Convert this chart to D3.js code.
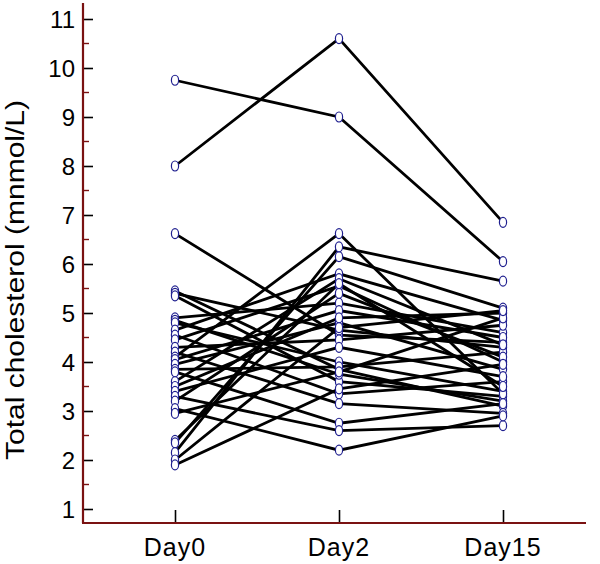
<!DOCTYPE html>
<html><head><meta charset="utf-8">
<script src="https://cdn.jsdelivr.net/npm/d3@7"></script>
<style>body{margin:0;background:#fff}svg{display:block}</style>
</head><body>
<script>
const categories = ["Day0", "Day2", "Day15"];
const day0  = [9.75, 8.0, 6.62, 5.45, 5.4, 5.35, 4.9, 4.85, 4.8, 4.65, 4.55, 4.45, 4.3, 4.2, 4.1, 4.05, 3.95, 3.85, 3.8, 3.6, 3.5, 3.4, 3.3, 3.2, 3.05, 2.95, 2.4, 2.35, 2.15, 2.0, 1.9];
const day2  = [9.0, 10.6, 4.55, 3.85, 4.65, 3.6, 5.2, 3.75, 4.0, 5.8, 3.35, 5.55, 4.45, 3.15, 6.62, 5.05, 4.8, 3.9, 2.75, 5.7, 4.9, 4.3, 2.6, 5.4, 2.2, 3.8, 5.6, 6.15, 6.35, 4.7, 3.45];
const day15 = [6.05, 6.85, 4.4, 3.1, 4.3, 3.3, 4.6, 3.2, 3.4, 4.85, 3.6, 4.0, 4.75, 2.95, 3.35, 4.5, 3.85, 4.2, 3.15, 4.35, 5.0, 3.7, 2.7, 4.1, 2.9, 4.9, 3.5, 5.1, 5.65, 5.05, 3.95];
const yTicks = [1, 2, 3, 4, 5, 6, 7, 8, 9, 10, 11];
const yMinor = [1.5, 2.5, 3.5, 4.5, 5.5, 6.5, 7.5, 8.5, 9.5, 10.5];
const yTitle = "Total cholesterol (mnmol/L)";

const subjects = day0.map((v, i) => [v, day2[i], day15[i]]);

const W = 600, H = 564;
const svg = d3.select("body").append("svg").attr("width", W).attr("height", H)
  .style("font-family", "'Liberation Sans', Arial, Helvetica, sans-serif");

const x = d3.scalePoint().domain(categories).range([175, 503]);
const y = d3.scaleLinear().domain([1, 11]).range([509, 19]);
const axisColor = "#7a1212";
const x0 = 83, xEnd = 586, yBase = 523, yTop = 3;

// lines
const line = d3.line().x((d, i) => x(categories[i])).y(d => y(d));
svg.append("g").selectAll("path").data(subjects).join("path")
  .attr("d", line).attr("fill", "none").attr("stroke", "#000").attr("stroke-width", 2.8);

// points
const pts = [];
subjects.forEach(s => s.forEach((v, i) => pts.push({c: categories[i], v})));
svg.append("g").selectAll("ellipse").data(pts).join("ellipse")
  .attr("cx", d => x(d.c)).attr("cy", d => y(d.v)).attr("rx", 3.6).attr("ry", 5)
  .attr("fill", "#fff").attr("stroke", "#1f1f8f").attr("stroke-width", 1.2);

// y axis
const yAxis = d3.axisRight(y).tickValues(yTicks).tickSize(10).tickFormat("");
const gy = svg.append("g").attr("transform", `translate(${x0},0)`).call(yAxis);
gy.select(".domain").remove();
gy.selectAll(".tick line").attr("stroke", "#000").attr("stroke-width", 1.6);
svg.append("g").selectAll("line").data(yMinor).join("line")
  .attr("x1", x0).attr("x2", x0 + 6).attr("y1", d => y(d)).attr("y2", d => y(d))
  .attr("stroke", axisColor).attr("stroke-width", 1.4);
svg.append("g").selectAll("text").data(yTicks).join("text")
  .attr("x", x0 - 8).attr("y", d => y(d)).attr("dy", "0.36em")
  .attr("text-anchor", "end").attr("font-size", 24).attr("fill", "#000").text(d => d);

// x axis
const xAxis = d3.axisTop(x).tickSize(13).tickFormat("");
const gx = svg.append("g").attr("transform", `translate(0,${yBase})`).call(xAxis);
gx.select(".domain").remove();
gx.selectAll(".tick line").attr("stroke", "#000").attr("stroke-width", 1.6);
svg.append("g").selectAll("text").data(categories).join("text")
  .attr("x", d => x(d)).attr("y", 556).attr("text-anchor", "middle")
  .attr("font-size", 25).attr("letter-spacing", 1).attr("fill", "#000").text(d => d);

// axis lines
svg.append("line").attr("x1", x0).attr("x2", x0).attr("y1", yTop).attr("y2", yBase)
  .attr("stroke", axisColor).attr("stroke-width", 2.2);
svg.append("line").attr("x1", x0 - 1).attr("x2", xEnd).attr("y1", yBase).attr("y2", yBase)
  .attr("stroke", axisColor).attr("stroke-width", 2.2);

// title
svg.append("text").attr("transform", "translate(24,280) rotate(-90)")
  .attr("text-anchor", "middle").attr("font-size", 25).attr("fill", "#000")
  .attr("textLength", 360).attr("lengthAdjust", "spacingAndGlyphs").text(yTitle);
</script>
</body></html>
